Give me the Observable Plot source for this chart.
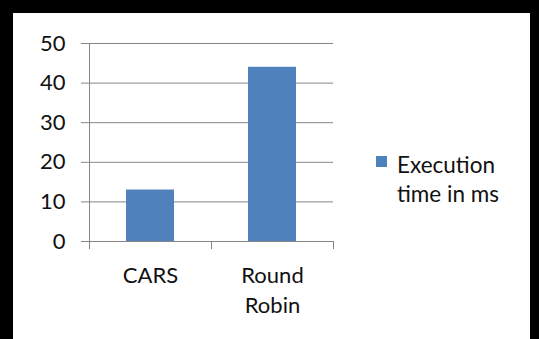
<!DOCTYPE html>
<html>
<head>
<meta charset="utf-8">
<script src="https://cdn.jsdelivr.net/npm/d3@7"></script>
<script src="https://cdn.jsdelivr.net/npm/@observablehq/plot@0.6"></script>
<style>
  html, body { margin: 0; padding: 0; }
  #page { position: relative; width: 539px; height: 339px; background: #000; overflow: hidden; font-family: Lato, "Open Sans", sans-serif; }
  #inner { position: absolute; left: 13px; top: 13px; width: 517px; height: 340px; background: #fff; }
  #chart { position: absolute; left: 0; top: 0; }
  #legend { position: absolute; left: 376px; top: 150px; font-size: 22.5px; line-height: 29px; color: #111; }
  #legend .sw { position: absolute; left: 0; top: 6px; width: 11px; height: 11px; }
  #legend .lbl { position: absolute; left: 21px; top: 0; white-space: nowrap; }
</style>
</head>
<body>
<div id="page">
  <div id="inner"></div>
  <div id="chart"></div>
  <div id="legend"></div>
</div>
<script>
const categories = ["CARS", "Round Robin"];
const executionTime = [13, 44];
const yTicks = [0, 10, 20, 30, 40, 50];
const seriesName = "Execution time in ms";
const seriesLines = ["Execution", "time in ms"];
const barColor = "#4F81BD";
const gridColor = "#868686";

const data = categories.map((c, i) => ({category: c, value: executionTime[i]}));

const chart = Plot.plot({
  width: 539,
  height: 339,
  marginLeft: 89,
  marginRight: 206,
  marginTop: 43,
  marginBottom: 98,
  style: {background: "transparent", fontFamily: "Lato, 'Open Sans', sans-serif", fontSize: "22px", color: "#111", overflow: "visible"},
  x: {type: "band", domain: categories, paddingInner: 0.607, paddingOuter: 0.3035, align: 0.5},
  y: {domain: [0, 50]},
  marks: [
    Plot.gridY(yTicks, {stroke: gridColor, strokeOpacity: 1, strokeWidth: 1}),
    Plot.axisY(yTicks, {tickSize: 8, tickPadding: 16, stroke: gridColor, strokeOpacity: 1, fill: "#111", fontSize: 22, label: null}),
    Plot.frame({anchor: "left", stroke: gridColor, strokeOpacity: 1}),
    Plot.barY(data, {x: "category", y: "value", fill: barColor}),
    Plot.axisX({tickSize: 0, tickPadding: 20, fontSize: 22, fill: "#111", label: null, lineHeight: 1.38,
      tickFormat: d => d.replace(" ", "\n")})
  ]
});
document.getElementById("chart").appendChild(chart);

// x-axis boundary tick marks below the axis, using Plot's own scales
const xs = chart.scale("x");
const ys = chart.scale("y");
const starts = categories.map(c => xs.apply(c));
const bw = xs.bandwidth;
const step = starts.length > 1 ? starts[1] - starts[0] : bw;
const gap = (step - bw) / 2;
const bounds = [starts[0] - gap, ...starts.map(s => s + bw + gap)];
const y0 = ys.apply(0);
d3.select(chart).append("g")
  .attr("stroke", gridColor)
  .selectAll("line").data(bounds).join("line")
  .attr("x1", d => Math.round(d) + 0.5).attr("x2", d => Math.round(d) + 0.5)
  .attr("y1", y0).attr("y2", y0 + 8);

// legend
const legend = d3.select("#legend");
legend.append("div").attr("class", "sw").style("background", barColor);
legend.append("div").attr("class", "lbl").attr("title", seriesName).html(seriesLines.join("<br>"));
</script>
</body>
</html>
